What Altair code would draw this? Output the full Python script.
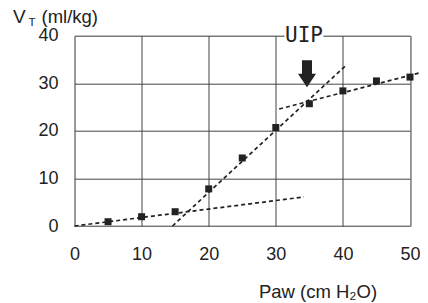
import altair as alt
import pandas as pd

# measured points
paw = [5, 10, 15, 20, 25, 30, 35, 40, 45, 50]
vt = [0.9, 1.95, 3.0, 7.8, 14.3, 20.7, 25.7, 28.4, 30.5, 31.3]

# dashed fit lines (two end points each)
fit_names = ["low", "low", "steep", "steep", "upper", "upper"]
fit_x = [0, 34.2, 14.6, 40.4, 30.5, 52.6]
fit_y = [0, 6.1, 0, 33.7, 24.6, 32.6]

x_ticks = [0, 10, 20, 30, 40, 50]
y_ticks = [0, 10, 20, 30, 40]

# annotation
uip_label = ["UIP"]
uip_x = [34.2]
uip_y = [39.9]
uip_box_x = [31.3]
uip_box_x2 = [37.1]
uip_box_y = [39.3]
uip_box_y2 = [40.7]
arrow_x = [34.65]
arrow_y = [32.0]

INK = "#222222"
GRID = "#444444"
FONT = "Liberation Sans"

pts = pd.DataFrame({"paw": paw, "vt": vt})
fits = pd.DataFrame({"name": fit_names, "paw": fit_x, "vt": fit_y})
uip = pd.DataFrame({"label": uip_label, "paw": uip_x, "vt": uip_y,
                    "x1": uip_box_x, "x2": uip_box_x2, "y1": uip_box_y, "y2": uip_box_y2})
arrow = pd.DataFrame({"paw": arrow_x, "vt": arrow_y})

xs = alt.Scale(domain=[0, 50], nice=False, zero=False)
ys = alt.Scale(domain=[0, 40], nice=False, zero=False)

x_axis = alt.Axis(values=x_ticks, grid=True, ticks=False, tickSize=0, domain=False,
                  labelFlush=False, labelOverlap=False,
                  labelPadding=19, labelFontSize=18, labelFont=FONT, labelColor=INK,
                  gridColor=GRID, gridWidth=1,
                  title="Paw (cm H₂O)", titleFont=FONT, titleFontSize=18.5,
                  titleFontWeight="normal", titleColor=INK,
                  titleAnchor="start", titleAlign="center", titleX=243, titleY=71,
                  titleBaseline="alphabetic")
y_axis = alt.Axis(values=y_ticks, grid=True, ticks=False, tickSize=0, domain=False,
                  labelFlush=False, labelOverlap=False,
                  labelPadding=16.5, labelFontSize=18, labelFont=FONT, labelColor=INK,
                  gridColor=GRID, gridWidth=1, title=None)

base_x = alt.X("paw:Q", scale=xs, axis=x_axis)
base_y = alt.Y("vt:Q", scale=ys, axis=y_axis)

lines = alt.Chart(fits).mark_line(strokeDash=[4, 3], strokeWidth=1.7, color=INK, clip=False).encode(
    x=base_x, y=base_y, detail="name:N")

points = alt.Chart(pts).mark_point(shape="square", filled=True, size=49, color=INK, opacity=1).encode(
    x=alt.X("paw:Q", scale=xs), y=alt.Y("vt:Q", scale=ys))

box = alt.Chart(uip).mark_rect(color="white", clip=False).encode(
    x=alt.X("x1:Q", scale=xs), x2="x2:Q", y=alt.Y("y1:Q", scale=ys), y2="y2:Q")

label = alt.Chart(uip).mark_text(font="DejaVu Sans Mono", fontSize=21, color=INK,
                                 align="center", baseline="middle").encode(
    x=alt.X("paw:Q", scale=xs), y=alt.Y("vt:Q", scale=ys), text="label:N")

ARROW = "M-0.556,-1.5L0.556,-1.5L0.556,0L1,0L0,1.5L-1,0L-0.556,0Z"
arr = alt.Chart(arrow).mark_point(shape=ARROW, filled=True, size=324, color=INK,
                                  opacity=1, strokeWidth=0).encode(
    x=alt.X("paw:Q", scale=xs), y=alt.Y("vt:Q", scale=ys))

title_df = pd.DataFrame({"a": [0]})
t_v = alt.Chart(title_df).mark_text(font=FONT, fontSize=19, color=INK, align="left",
                                    baseline="alphabetic").encode(
    x=alt.value(-61.5), y=alt.value(-12.5), text=alt.value("V"))
t_t = alt.Chart(title_df).mark_text(font=FONT, fontSize=11.5, color=INK, align="left",
                                    baseline="alphabetic").encode(
    x=alt.value(-46), y=alt.value(-10), text=alt.value("T"))
t_u = alt.Chart(title_df).mark_text(font=FONT, fontSize=18.5, color=INK, align="left",
                                    baseline="alphabetic").encode(
    x=alt.value(-33), y=alt.value(-12.5), text=alt.value("(ml/kg)"))

chart = alt.layer(lines, points, box, label, arr, t_v, t_t, t_u).properties(
    width=335.5, height=190.3,
    autosize=alt.AutoSizeParams(type="none"),
    padding={"left": 66.5, "top": 27.7, "right": 10, "bottom": 76},
).configure_view(stroke=GRID, strokeWidth=1).configure(background="white")

chart.save("out.html", embed_options={"renderer": "svg", "actions": False})
